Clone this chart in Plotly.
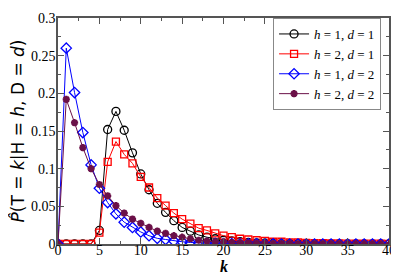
import plotly.graph_objects as go

k = list(range(41))

p_h1_d1 = [0, 0, 0, 0, 0, 0.018, 0.152, 0.176, 0.151, 0.121, 0.093, 0.072, 0.054, 0.042,
           0.031, 0.022, 0.017, 0.012, 0.009, 0.007, 0.005, 0.004, 0.003, 0.002, 0.0015,
           0.001, 0.0008, 0.0006, 0.0005, 0.0004, 0.0003, 0.0002, 0.0002, 0.0001, 0.0001,
           0.0001, 0, 0, 0, 0, 0]
p_h2_d1 = [0, 0, 0, 0, 0, 0.015, 0.109, 0.136, 0.119, 0.107, 0.089, 0.075, 0.061, 0.051,
           0.041, 0.033, 0.027, 0.021, 0.018, 0.014, 0.011, 0.009, 0.007, 0.006, 0.005,
           0.004, 0.003, 0.003, 0.002, 0.002, 0.0015, 0.0012, 0.001, 0.0008, 0.0007,
           0.0006, 0.0005, 0.0004, 0.0003, 0.0003, 0.0002]
p_h1_d2 = [0, 0.260, 0.201, 0.148, 0.105, 0.074, 0.055, 0.040, 0.029, 0.022, 0.016, 0.011,
           0.0075, 0.006, 0.004, 0.003, 0.002, 0.0015, 0.001, 0.0008, 0.0006, 0.0004,
           0.0003, 0.0002, 0.0002, 0.0001, 0.0001, 0, 0, 0, 0, 0, 0, 0, 0, 0, 0, 0, 0, 0, 0]
p_h2_d2 = [0, 0.192, 0.161, 0.128, 0.100, 0.079, 0.064, 0.051, 0.041, 0.033, 0.0275, 0.022,
           0.017, 0.014, 0.011, 0.009, 0.007, 0.005, 0.004, 0.003, 0.0025, 0.002, 0.0015,
           0.0012, 0.001, 0.0008, 0.0006, 0.0005, 0.0004, 0.0003, 0.0002, 0.0002, 0.0001,
           0.0001, 0.0001, 0, 0, 0, 0, 0, 0]

series = [
    ("<i>h</i> = 1, <i>d</i> = 1", p_h1_d1, "#000000", "circle-open", 8, 1.3),
    ("<i>h</i> = 2, <i>d</i> = 1", p_h2_d1, "#ff0000", "square-open", 7, 1.3),
    ("<i>h</i> = 1, <i>d</i> = 2", p_h1_d2, "#0000ff", "diamond-open", 8, 1.3),
    ("<i>h</i> = 2, <i>d</i> = 2", p_h2_d2, "#6b1048", "asterisk-open", 6, 2.2),
]

SERIF = "Liberation Serif, Times New Roman, serif"

fig = go.Figure()
for name, vals, col, sym, sz, lw in series:
    fig.add_trace(go.Scatter(
        x=k, y=vals, name=name, mode="lines+markers",
        line=dict(color=col, width=1),
        marker=dict(symbol=sym, size=sz, color=col, line=dict(color=col, width=lw)),
    ))

axis_common = dict(
    showline=True, linecolor="#555555", linewidth=1.5, mirror="ticks",
    ticks="inside", ticklen=6, tickcolor="#555555", showgrid=False, zeroline=False,
    tickfont=dict(family=SERIF, size=14, color="#000"),
    ticklabeloverflow="allow",
)

# The page body has an 8px margin, so the figure is sized to fit the remaining window.
fig.update_layout(
    width=391, height=266,
    font=dict(family=SERIF),
    margin=dict(l=50, r=8, t=3, b=30),
    paper_bgcolor="white", plot_bgcolor="white",
    showlegend=True,
    legend=dict(
        x=0.976, y=1, xanchor="right", yanchor="top",
        bgcolor="white", bordercolor="#888888", borderwidth=1,
        font=dict(family=SERIF, size=13, color="#000"),
        tracegroupgap=0, itemwidth=30,
    ),
    xaxis=dict(range=[0, 40], tickvals=[0, 5, 10, 15, 20, 25, 30, 35, 40],
               minor=dict(ticks="inside", ticklen=3, dtick=2.5, tickcolor="#555555"),
               ticklabelstandoff=-8,
               **axis_common),
    yaxis=dict(range=[0, 0.3], tickvals=[0, 0.05, 0.1, 0.15, 0.2, 0.25, 0.3],
               ticktext=["0", "0.05", "0.1", "0.15", "0.2", "0.25", "0.3"],
               minor=dict(ticks="inside", ticklen=3, dtick=0.025, tickcolor="#555555"),
               ticklabelstandoff=-2,
               title=dict(text="<i>P̂</i>(T = <i>k</i>|H = <i>h</i>, D = <i>d</i>)", standoff=4,
                          font=dict(family="DejaVu Sans", size=17, color="#000")),
               **axis_common),
    annotations=[dict(text="<b><i>k</i></b>", xref="paper", yref="paper", x=0.5, y=0,
                      yshift=-22, yanchor="middle", showarrow=False,
                      font=dict(family=SERIF, size=16, color="#000"))],
)

fig.write_html("out.html")
